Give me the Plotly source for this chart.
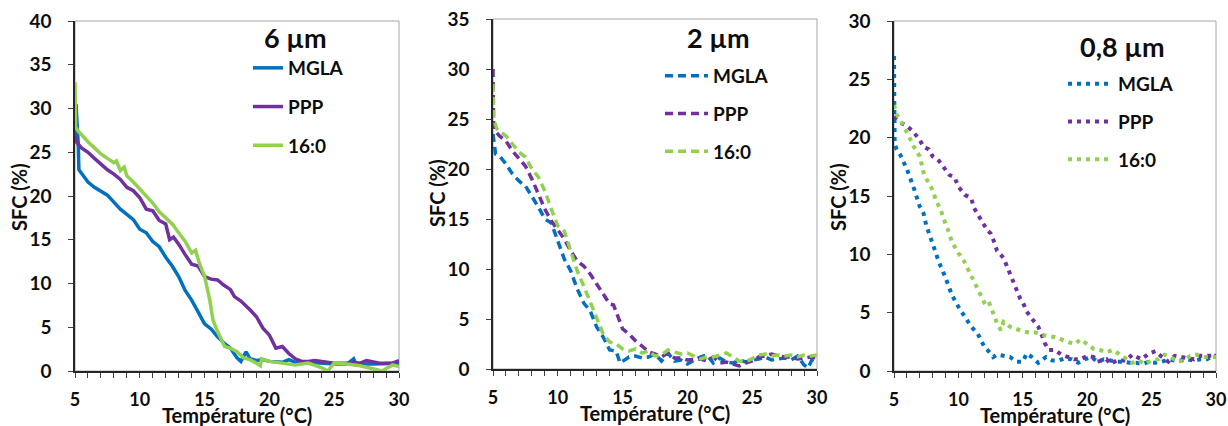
import plotly.graph_objects as go

# ---------------- data ----------------
# Panel 1 : 6 µm (solid)
t6_mgla = [5.0, 5.08, 5.15, 5.25, 5.3, 5.5, 6, 6.5, 7, 7.5, 8, 8.5, 9, 9.5, 10, 10.5, 11, 11.5, 12, 12.5,
           13, 13.5, 14, 14.5, 15, 15.5, 16, 16.5, 17, 17.5, 17.8, 18.2, 18.5, 19, 19.5, 20, 21, 21.5, 22,
           23, 24, 25, 26, 26.5, 26.7, 27, 28, 29, 30]
v6_mgla = [26, 30.5, 28.5, 26, 23, 22.6, 21.6, 21, 20.5, 20.1, 19.3, 18.5, 17.9, 17.3, 16.2, 15.8, 14.8, 14.2,
           13.0, 12.0, 10.8, 9.2, 8.1, 6.8, 5.4, 4.8, 3.9, 3.2, 2.6, 1.5, 1.1, 2.2, 1.4, 1.2, 1.3, 1.1, 1.0,
           1.3, 1.0, 1.0, 0.9, 0.8, 0.8, 1.4, 0.7, 0.8, 0.8, 0.8, 0.9]

t6_ppp = [5.0, 5.2, 5.5, 6, 6.5, 7, 7.5, 8, 8.5, 9, 9.5, 10, 10.5, 11, 11.5, 12, 12.3, 12.6, 13, 13.5, 14,
          14.5, 15, 15.5, 16, 16.5, 17, 17.3, 17.8, 18.5, 19, 19.5, 20, 20.5, 21, 21.5, 22, 22.5, 23, 23.5,
          24, 25, 25.5, 26, 26.5, 27, 27.5, 28, 28.5, 29, 29.5, 30]
v6_ppp = [27, 26, 25.5, 25, 24.3, 23.6, 23.0, 22.5, 21.9, 21.0, 20.6, 19.8, 18.5, 18.3, 17.2, 16.8, 15.0, 15.3,
          14.5, 13.3, 12.2, 12.0, 10.8, 10.5, 10.4, 9.8, 9.3, 8.5, 8.0, 7.0, 6.2, 4.9, 4.1, 2.6, 2.8, 2.0,
          1.4, 1.1, 1.1, 1.2, 1.1, 0.9, 0.9, 0.9, 1.0, 0.9, 1.2, 1.0, 0.9, 0.9, 0.9, 1.2]

t6_160 = [5.0, 5.05, 5.2, 5.5, 6, 6.5, 7, 7.5, 8, 8.2, 8.5, 8.8, 9, 9.5, 10, 10.5, 11, 11.5, 12, 12.5, 13,
          13.5, 14, 14.3, 14.6, 15, 15.4, 15.65, 16, 16.55, 17, 17.5, 18, 18.5, 19, 19.3, 19.4, 20, 21, 22,
          22.5, 23, 24, 24.5, 25, 26, 27, 28, 28.7, 29.5, 30]
v6_160 = [33, 27.9, 27.5, 27, 26.2, 25.5, 24.8, 24.3, 23.8, 24.0, 22.9, 23.3, 22.3, 21.6, 20.8, 20.0, 19.2,
          18.2, 17.5, 16.8, 15.8, 14.8, 13.5, 13.8, 12.3, 10.8, 8.1, 5.8, 4.5, 2.8, 2.6, 2.2, 1.5, 1.3,
          0.9, 0.6, 1.4, 1.1, 0.9, 0.7, 0.8, 0.9, 0.4, 0.0, 0.9, 0.8, 0.6, 0.3, 0.0, 0.7, 0.5]

# Panel 2 : 2 µm (dashed)
t2_mgla = [5.0, 5.2, 5.5, 6, 6.5, 7, 7.5, 8, 8.5, 9, 9.5, 10, 10.5, 11, 11.5, 12, 12.5, 13, 13.5, 14, 14.5,
           14.8, 15, 15.5, 16, 16.5, 17, 17.5, 18, 18.5, 19, 19.5, 20, 20.5, 21, 21.5, 22, 22.5, 23, 23.5,
           24, 24.5, 25, 25.5, 26, 26.5, 27, 27.5, 28, 28.5, 29, 29.3, 29.6, 30]
v2_mgla = [23.5, 21.5, 21.3, 20.5, 19.5, 18.8, 18.3, 17.3, 16.2, 15.0, 14.6, 12.8, 11.0, 9.8, 8.0, 6.6, 5.8,
           4.2, 3.2, 1.9, 1.8, 0.6, 0.8, 1.2, 1.3, 1.1, 1.2, 1.5, 0.8, 1.6, 0.8, 0.9, 0.5, 0.9, 1.2, 1.4,
           0.6, 1.1, 0.7, 0.6, 0.9, 0.7, 0.9, 1.0, 1.2, 0.9, 1.0, 1.1, 0.9, 1.3, 0.4, 0.1, 0.9, 1.0]

t2_ppp = [5.0, 5.05, 5.5, 6, 6.5, 7, 7.5, 8, 8.5, 9, 9.5, 10, 10.5, 11, 11.5, 12, 12.5, 13, 13.5, 14, 14.3,
          14.7, 15, 15.5, 16, 16.5, 17, 17.5, 18, 18.5, 19, 19.5, 20, 21, 21.5, 22, 22.5, 23, 23.5, 24,
          24.5, 25, 25.5, 26, 26.5, 27, 27.5, 28, 28.5, 29, 29.5, 30]
v2_ppp = [30, 24, 23.3, 22.8, 21.8, 21, 20.3, 19.0, 17.5, 16.0, 14.8, 13.9, 13.0, 11.8, 10.8, 10.3, 9.5, 8.5,
          7.5, 6.5, 6.4, 4.9, 4.0, 3.5, 2.8, 2.3, 1.7, 1.5, 1.2, 1.6, 1.1, 1.1, 0.9, 1.0, 0.8, 1.2, 0.6,
          0.7, 0.5, 0.3, 0.6, 0.8, 1.2, 1.3, 1.5, 1.3, 1.2, 1.2, 1.0, 1.1, 1.2, 1.1]

t2_160 = [5.0, 5.05, 5.3, 5.5, 6, 6.5, 7, 7.5, 8, 8.5, 9, 9.5, 10, 10.5, 11, 11.5, 12, 12.5, 13, 13.5, 14,
          14.5, 15, 15.5, 16, 16.5, 17, 17.5, 18, 18.5, 19, 19.5, 20, 20.5, 21, 21.5, 22, 22.5, 23, 23.5,
          24, 24.5, 25, 25.5, 26, 26.5, 27, 27.5, 28, 28.5, 29, 29.5, 30]
v2_160 = [28.5, 25, 24.0, 23.8, 23.3, 22.5, 21.7, 21.2, 20.0, 19.2, 17.8, 16.0, 14.3, 13.8, 11.8, 9.8, 8.3,
          6.7, 4.9, 3.5, 2.7, 2.5, 2.0, 1.8, 2.0, 1.6, 1.8, 1.3, 1.4, 1.9, 1.7, 1.5, 1.6, 1.3, 1.0, 1.2,
          1.2, 1.4, 1.6, 1.2, 0.8, 0.7, 1.1, 1.4, 1.5, 1.3, 1.4, 1.3, 1.4, 1.2, 1.4, 1.3, 1.4]

# Panel 3 : 0,8 µm (dotted)
t08_mgla = [5.0, 5.02, 5.05, 5.2, 5.5, 6, 6.3, 6.5, 7, 7.3, 7.5, 8, 8.3, 8.5, 9, 9.3, 9.5, 10, 10.5, 11,
            11.5, 12, 12.5, 12.7, 13, 13.5, 14, 14.5, 15, 15.3, 15.7, 16.2, 16.8, 17.3, 17.8, 18.3, 18.8,
            19.3, 19.8, 20.3, 20.8, 21.3, 21.8, 22.3, 22.8, 23.3, 23.8, 24.3, 24.8, 25.3, 25.8, 26.3, 26.8,
            27.3, 27.8, 28.3, 28.8, 29.3, 29.8, 30]
v08_mgla = [27, 22, 19.5, 19, 18.5, 17.3, 16.5, 15.8, 14.1, 13.5, 12.5, 10.9, 10.0, 9.3, 8.0, 7.2, 6.5, 5.5,
            4.7, 3.8, 3.2, 2.1, 1.5, 1.2, 1.4, 1.3, 1.2, 0.8, 0.8, 1.5, 1.2, 0.7, 1.2, 0.9, 0.9, 1.1, 1.0,
            0.7, 1.0, 1.2, 0.8, 1.0, 0.9, 0.8, 0.8, 0.7, 0.7, 0.6, 0.8, 0.7, 0.8, 1.0, 0.9, 0.9, 1.0, 0.9,
            1.0, 1.0, 1.3, 1.3]

t08_ppp = [5.0, 5.3, 5.5, 6, 6.5, 7, 7.3, 7.7, 8, 8.5, 9, 9.3, 9.7, 10, 10.5, 11, 11.2, 11.5, 12, 12.3,
           12.5, 12.8, 13, 13.5, 14, 14.3, 14.5, 14.8, 15.0, 15.3, 15.7, 16.2, 16.5, 16.7, 17.0, 17.5, 18.0,
           18.5, 19.0, 19.5, 20.0, 20.5, 20.8, 21.5, 21.8, 22.3, 23, 23.5, 24.2, 24.8, 25.3, 25.8, 26.3,
           26.8, 27.3, 27.8, 28.3, 28.8, 29.3, 30]
v08_ppp = [21.8, 21.5, 21.3, 21.0, 20.5, 19.8, 19.2, 19.0, 18.4, 18.0, 17.2, 16.8, 16.6, 15.8, 15.1, 14.8,
           14.0, 13.4, 12.5, 12.0, 11.8, 11.0, 10.3, 9.7, 8.4, 7.7, 7.0, 6.2, 5.9, 5.1, 4.5, 3.8, 3.0, 2.4,
           1.8, 1.8, 1.4, 1.2, 1.0, 1.0, 1.3, 1.2, 0.8, 1.0, 0.6, 0.9, 0.9, 1.4, 1.0, 1.5, 1.7, 1.2, 0.8,
           1.3, 1.2, 1.1, 1.0, 1.3, 1.3, 1.3]

t08_160 = [5.0, 5.2, 5.5, 6, 6.3, 6.5, 7, 7.3, 7.5, 8, 8.3, 8.6, 8.8, 9.0, 9.3, 9.5, 9.8, 10.0, 10.4, 10.7,
           11.0, 11.3, 11.7, 12.0, 12.3, 12.5, 12.7, 13.0, 13.3, 13.5, 14.0, 14.5, 15.0, 15.5, 16.0, 16.5,
           17.0, 17.5, 18.0, 18.5, 19.0, 19.5, 20.0, 20.5, 21.0, 21.5, 22.0, 22.5, 23.0, 23.5, 24.0, 24.5,
           25.0, 25.5, 26.0, 26.5, 27.0, 27.5, 28.0, 28.5, 29.0, 29.5, 30.0]
v08_160 = [22.8, 22.0, 21.5, 20.5, 19.8, 19.3, 18.4, 17.0, 16.5, 15.5, 14.5, 13.9, 13.1, 12.6, 11.8, 11.0,
           10.5, 10.1, 9.5, 8.8, 8.2, 7.5, 6.4, 5.9, 6.1, 5.5, 4.9, 4.1, 3.5, 4.2, 3.8, 3.6, 3.4, 3.3, 3.3,
           3.1, 3.0, 2.9, 2.7, 2.5, 2.3, 2.7, 2.3, 1.9, 1.8, 1.6, 1.8, 1.4, 1.1, 0.7, 0.9, 0.6, 0.9, 1.0,
           1.4, 1.2, 0.8, 0.9, 1.3, 1.4, 1.2, 1.2, 1.2]

series_names = ["MGLA", "PPP", "16:0"]
colors = ["#0070C0", "#7030A0", "#92D050"]
panel_titles = ["6 µm", "2 µm", "0,8 µm"]
y_max = [40, 35, 30]
x_ticks = [5, 10, 15, 20, 25, 30]

panels = [
    [(t6_mgla, v6_mgla), (t6_ppp, v6_ppp), (t6_160, v6_160)],
    [(t2_mgla, v2_mgla), (t2_ppp, v2_ppp), (t2_160, v2_160)],
    [(t08_mgla, v08_mgla), (t08_ppp, v08_ppp), (t08_160, v08_160)],
]

# ---------------- layout geometry (page pixels) ----------------
W, H = 1228, 426
px_x = [(75, 399), (493, 817), (894, 1216)]
px_y = [(21, 371), (19, 369), (21, 371)]
dashes = ["solid", "8px,5px", "4px,5px"]
leg_pos = [(248, 49), (660, 57), (1063, 65)]   # left, top
leg_itemwidth = [30, 43, 45]
title_pos = [(295, 37), (718, 37), (1122, 46)]
ytitle_pos = [(19, 197), (437, 193), (838, 197)]
xtitle_pos = [(237, 415), (655, 413), (1055, 415)]


def fx(px):
    return px / W


def fy(py):
    return 1 - py / H


FONT = "Lato"
BLACK = "#0d0d0d"
fig = go.Figure()

for p in range(3):
    ax = "" if p == 0 else str(p + 1)
    leg = "legend" if p == 0 else f"legend{p + 1}"
    for s in range(3):
        xs, ys = panels[p][s]
        fig.add_trace(go.Scatter(
            x=xs, y=ys, mode="lines", name=series_names[s],
            line=dict(color=colors[s], width=3.5 if p < 2 else 4, dash=dashes[p]),
            xaxis="x" + ax, yaxis="y" + ax, legend=leg,
            legendgroup=f"g{p}{s}", showlegend=True,
        ))

layout = dict(
    width=W, height=H,
    margin=dict(l=0, r=0, t=0, b=0, autoexpand=False),
    paper_bgcolor="white", plot_bgcolor="white",
    font=dict(family=FONT, size=18, color=BLACK, weight="bold"),
    showlegend=True,
    shapes=[], annotations=[],
)

ytickfont = dict(family=FONT, size=19, weight="bold", color=BLACK)
xtickfont = dict(family=FONT, size=18, weight="bold", color=BLACK)

for p in range(3):
    ax = "" if p == 0 else str(p + 1)
    x0, x1 = px_x[p]
    ytop, ybot = px_y[p]
    layout["xaxis" + ax] = dict(
        domain=[fx(x0), fx(x1)], anchor="y" + ax, range=[5, 30],
        tickmode="array", tickvals=x_ticks, ticktext=[str(v) for v in x_ticks],
        ticks="outside", ticklen=5, tickwidth=1, tickcolor="#404040",
        minor=dict(dtick=1, ticks="outside", ticklen=5, tickwidth=1, tickcolor="#404040"),
        showline=True, linecolor="#262626", linewidth=1.5,
        showgrid=False, zeroline=False, ticklabelstandoff=7, automargin=False,
        tickfont=xtickfont,
    )
    layout["yaxis" + ax] = dict(
        domain=[fy(ybot), fy(ytop)], anchor="x" + ax, range=[0, y_max[p]],
        dtick=5, ticks="outside", ticklen=5, tickwidth=1, tickcolor="#404040",
        showline=True, linecolor="#262626", linewidth=1.5,
        showgrid=False, zeroline=False, ticklabelstandoff=13, automargin=False,
        tickfont=ytickfont,
    )
    layout["shapes"].append(dict(
        type="rect", xref=f"x{ax} domain", yref=f"y{ax} domain",
        x0=0, x1=1, y0=0, y1=1, line=dict(color="#A6A6A6", width=1), layer="below",
    ))
    lx, ly = leg_pos[p]
    layout["legend" if p == 0 else f"legend{p + 1}"] = dict(
        x=fx(lx), y=fy(ly), xanchor="left", yanchor="top",
        bgcolor="rgba(0,0,0,0)", borderwidth=0, itemwidth=leg_itemwidth[p],
        font=dict(family=FONT, size=19, weight="bold", color=BLACK),
        traceorder="grouped", tracegroupgap=11 if p == 0 else 10,
    )
    tx, ty = title_pos[p]
    layout["annotations"].append(dict(
        text=panel_titles[p], x=fx(tx), y=fy(ty), xref="paper", yref="paper",
        showarrow=False, xanchor="center", yanchor="middle",
        font=dict(family=FONT, size=27, weight="bold", color=BLACK),
    ))
    tx, ty = ytitle_pos[p]
    layout["annotations"].append(dict(
        text="SFC (%)", x=fx(tx), y=fy(ty), xref="paper", yref="paper",
        showarrow=False, textangle=-90, xanchor="center", yanchor="middle",
        font=dict(family=FONT, size=20, weight="bold", color=BLACK),
    ))
    tx, ty = xtitle_pos[p]
    layout["annotations"].append(dict(
        text="Température (°C)", x=fx(tx), y=fy(ty), xref="paper", yref="paper",
        showarrow=False, xanchor="center", yanchor="middle",
        font=dict(family=FONT, size=20, weight="bold", color=BLACK),
    ))

fig.update_layout(**layout)
# remove the default 8px page margin so the figure fills the 1228x426 window exactly
fig.write_html("out.html", config={"displayModeBar": False},
               post_script="document.body.style.margin='0px';")
